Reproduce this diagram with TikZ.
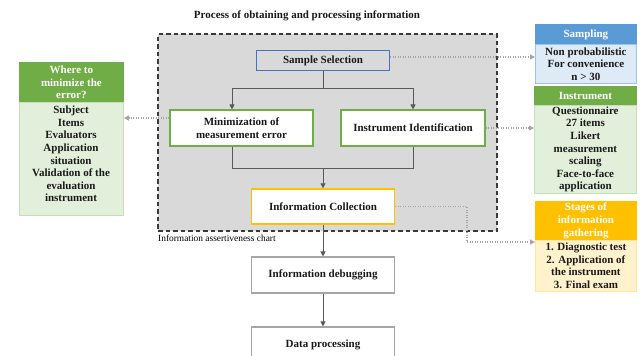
\documentclass[tikz,border=0pt]{standalone}
\usepackage{fontspec}
\setmainfont{Liberation Serif}
\usetikzlibrary{arrows.meta}
\definecolor{chartgray}{HTML}{D9D9D9}
\definecolor{chartborder}{HTML}{3A3A3A}
\definecolor{ssblue}{HTML}{4472C4}
\definecolor{boxgreen}{HTML}{70AD47}
\definecolor{collorange}{HTML}{FFC000}
\definecolor{debuggray}{HTML}{A6A6A6}
\definecolor{conngray}{HTML}{595959}
\definecolor{dotgray}{HTML}{A6A6A6}
\definecolor{hgreen}{HTML}{70AD47}
\definecolor{lgreen}{HTML}{E2EFDA}
\definecolor{lgreenb}{HTML}{C5E0B4}
\definecolor{hblue}{HTML}{5B9BD5}
\definecolor{lblue}{HTML}{DEEBF7}
\definecolor{lblueb}{HTML}{9DC3E6}
\definecolor{horange}{HTML}{FFC000}
\definecolor{lorange}{HTML}{FFF2CC}
\definecolor{lorangeb}{HTML}{FFE699}
\definecolor{bodytext}{HTML}{1A1A1A}
\begin{document}
\begin{tikzpicture}[x=1pt,y=-1pt,
  txt/.style={font=\bfseries\fontsize{11}{12.6}\selectfont, align=center, inner sep=0pt, text=bodytext},
  flowbox/.style={txt, draw, fill=white, line width=1.1pt, minimum width=143pt, minimum height=36pt},
  hdrbox/.style={txt, text=white, anchor=north west, line width=0.8pt},
  bodybox/.style={txt, anchor=north west, line width=0.8pt},
  conn/.style={draw=conngray, line width=1pt},
  tipped/.style={-{Triangle[length=5pt,width=5pt]}},
  dotarrow/.style={draw=dotgray, line width=1.2pt, dash pattern=on 1.2pt off 1.3pt, -{Triangle[length=5pt,width=5pt]}}
]
\useasboundingbox (0,0) rectangle (640,356);

\node[txt] (title) at (307,16) {Process of obtaining and processing information};

\node[draw=chartborder, dash pattern=on 4.5pt off 3pt, line width=1.4pt, fill=chartgray,
      minimum width=339pt, minimum height=197pt, inner sep=0pt] (chart) at (327.5,132.5) {};
\node[anchor=west, font=\fontsize{9.4}{11}\selectfont, inner sep=0pt] (chartlbl) at (158,238) {Information assertiveness chart};

% flow boxes
\node[flowbox, draw=ssblue, fill=none, minimum width=133pt, minimum height=20pt] (sample) at (323,60.5) {Sample Selection};
\node[flowbox, draw=boxgreen] (mini) at (241.5,128) {Minimization of\\measurement error};
\node[flowbox, draw=boxgreen, minimum width=144pt] (instid) at (413,128) {Instrument Identification};
\node[flowbox, draw=collorange, line width=1.4pt, minimum height=35pt] (coll) at (323,206.5) {Information Collection};
\node[flowbox, draw=debuggray] (debug) at (323,275) {Information debugging};
\node[flowbox, draw=debuggray] (data) at (323,345) {Data processing};

% solid connectors
\coordinate (j1) at (323,88);
\coordinate (j2) at (323,168);
\draw[conn] (sample.south) -- (j1);
\draw[conn, tipped] (j1) -| ([xshift=-9.5pt]mini.north);
\draw[conn, tipped] (j1) -| (instid.north);
\draw[conn] ([xshift=-9.5pt]mini.south) |- (j2);
\draw[conn] (instid.south) |- (j2);
\draw[conn, tipped] (j2) -- (coll.north);
\draw[conn, tipped] (coll.south) -- (debug.north);
\draw[conn, tipped] (debug.south) -- (data.north);

% left panel
\node[hdrbox, fill=hgreen, draw=hgreen, minimum width=104pt, minimum height=40pt] (lefthdr) at (19,62) {Where to\\minimize the\\error?};
\node[bodybox, fill=lgreen, draw=lgreenb, minimum width=104pt, minimum height=113pt] (leftbody) at (19,102) {};
\node[txt] (lefttext) at (71,154)
  {Subject\\Items\\Evaluators\\Application\\situation\\Validation of the\\evaluation\\instrument};

% sampling panel
\node[hdrbox, fill=hblue, draw=hblue, minimum width=101pt, minimum height=20pt] (samphdr) at (535,24) {Sampling};
\node[bodybox, fill=lblue, draw=lblueb, minimum width=101pt, minimum height=39pt] (sampbody) at (535,44)
  {Non probabilistic\\For convenience\\n > 30};

% instrument panel
\node[hdrbox, fill=hgreen, draw=hgreen, minimum width=102pt, minimum height=19pt] (insthdr) at (534,86) {Instrument};
\node[bodybox, fill=lgreen, draw=lgreenb, minimum width=102pt, minimum height=88pt] (instbody) at (534,105)
  {Questionnaire\\27 items\\Likert\\measurement\\scaling\\Face-to-face\\application};

% stages panel
\node[hdrbox, fill=horange, draw=horange, minimum width=101pt, minimum height=39pt] (stghdr) at (535,201) {Stages of\\information\\gathering};
\node[bodybox, fill=lorange, draw=lorangeb, minimum width=101pt, minimum height=51pt] (stgbody) at (535,240)
  {1. Diagnostic test\\2. Application of\\the instrument\\3. Final exam};

% dotted connectors
\draw[dotarrow] ([yshift=3.5pt]sample.east) -- ([yshift=3.5pt]sample.east -| sampbody.west);
\draw[dotarrow] (instid.east) -- (instid.east -| instbody.west);
\draw[dotarrow] ([yshift=10pt]mini.west) -- ([yshift=10pt]mini.west -| leftbody.east);
\coordinate (c1) at (467,242);
\draw[dotarrow] (coll.east) -| (c1) -- (c1 -| stgbody.west);
\end{tikzpicture}
\end{document}
